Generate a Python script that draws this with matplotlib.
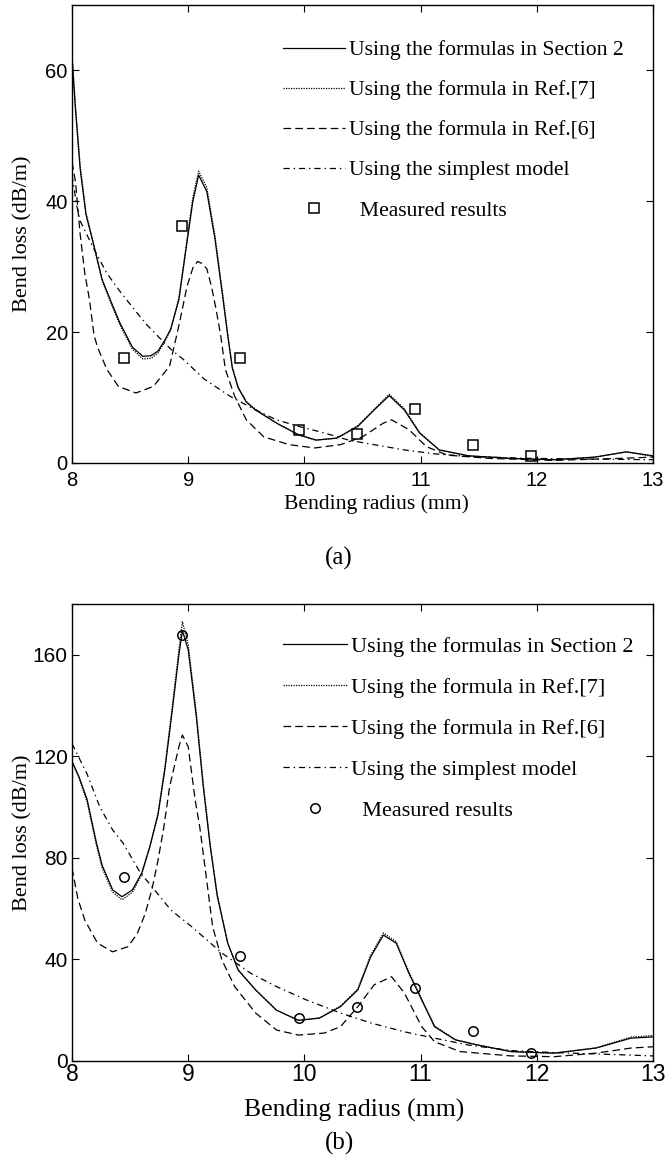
import matplotlib
matplotlib.use("Agg")
import matplotlib.pyplot as plt
from matplotlib import font_manager

# ---------------- data: panel (a) ----------------
a_sec2_x = [8.00, 8.03, 8.07, 8.12, 8.18, 8.26, 8.34, 8.41, 8.52, 8.61, 8.68, 8.74, 8.80, 8.85, 8.92,
            8.99, 9.04, 9.09, 9.16, 9.23, 9.30, 9.34, 9.38, 9.43, 9.50, 9.58, 9.76, 9.95, 10.10, 10.28,
            10.46, 10.60, 10.73, 10.86, 10.99, 11.16, 11.41, 11.78, 12.15, 12.50, 12.77, 13.00]
a_sec2_y = [62, 54, 45, 38, 33.8, 28, 24.5, 21.5, 17.7, 16.3, 16.4, 17.1, 18.8, 20.5, 25,
            33.8, 40, 44, 41.5, 34.3, 25, 19.5, 14.5, 11.5, 9.3, 8.1, 6.1, 4.3, 3.5, 3.8,
            5.6, 8.1, 10.3, 8.1, 4.6, 2.0, 1.1, 0.7, 0.5, 0.9, 1.7, 1.1]
a_ref7_y = [62.5, 54.5, 45.5, 38.3, 33.9, 27.8, 24.2, 21.2, 17.4, 15.9, 16.0, 16.8, 18.6, 20.4, 25.2,
            34.2, 40.6, 44.6, 42.1, 34.8, 25.4, 19.7, 14.6, 11.6, 9.4, 8.2, 6.1, 4.3, 3.5, 3.8,
            5.7, 8.2, 10.5, 8.3, 4.7, 2.0, 1.1, 0.7, 0.5, 0.9, 1.7, 1.0]
a_ref6_x = [8.00, 8.03, 8.07, 8.11, 8.15, 8.19, 8.22, 8.30, 8.40, 8.55, 8.70, 8.84, 8.92, 8.99, 9.04,
            9.08, 9.12, 9.16, 9.20, 9.24, 9.28, 9.32, 9.40, 9.50, 9.65, 9.87, 10.09, 10.31, 10.50, 10.68,
            10.75, 10.90, 11.05, 11.23, 11.60, 12.15, 12.70, 13.00]
a_ref6_y = [46, 43, 35, 29, 25, 19.5, 17.7, 14.3, 11.7, 10.7, 11.7, 14.8, 21, 27, 29.8,
            30.8, 30.5, 29.7, 27, 23.5, 19.4, 14.3, 10.2, 6.6, 4.0, 2.8, 2.3, 2.8, 4.0, 6.1,
            6.6, 5.1, 2.5, 1.2, 0.7, 0.4, 0.7, 0.9]
a_simple_x = [8.00, 8.04, 8.07, 8.18, 8.30, 8.41, 8.53, 8.64, 8.76, 8.85, 8.96, 9.14, 9.36, 9.58, 9.76,
              9.95, 10.17, 10.38, 10.60, 10.86, 11.12, 11.41, 11.96, 12.50, 13.00]
a_simple_y = [44, 39.4, 37, 33, 29, 26.3, 23.6, 21.2, 19, 17.4, 15.8, 12.8, 10.2, 8.1, 6.6,
              5.6, 4.6, 3.5, 2.8, 2.0, 1.4, 1.0, 0.7, 0.6, 0.5]
a_meas_x = [8.45, 8.95, 9.45, 9.95, 10.45, 10.95, 11.45, 11.95]
a_meas_y = [16.1, 36.2, 16.0, 5.0, 4.5, 8.3, 2.8, 1.0]

# ---------------- data: panel (b) ----------------
b_sec2_x = [8.00, 8.06, 8.13, 8.21, 8.26, 8.35, 8.43, 8.52, 8.60, 8.67, 8.74, 8.80, 8.86, 8.92, 8.95,
            9.00, 9.07, 9.13, 9.19, 9.25, 9.29, 9.34, 9.43, 9.58, 9.76, 9.95, 10.13, 10.31, 10.46, 10.57,
            10.68, 10.79, 10.90, 11.01, 11.12, 11.30, 11.49, 11.78, 12.15, 12.51, 12.81, 13.00]
b_sec2_y = [118, 112, 103, 86, 77, 67.4, 64.7, 67.4, 74, 84.4, 97, 115, 137, 160, 169.5,
            162, 135.6, 108, 84.4, 65, 56.8, 46.4, 35.8, 28, 20, 16, 16.9, 21.4, 28, 41,
            49.6, 46.4, 34.5, 24, 13.5, 8.3, 6.3, 3.7, 3.1, 5.1, 9.0, 9.5]
b_ref7_y = [118, 111.5, 102, 85, 76, 66.5, 63.5, 66.5, 73.5, 84.5, 97.5, 116, 138.5, 162, 173,
            164, 137, 109, 85, 65.5, 57, 46.6, 36, 28, 20, 16, 17, 21.6, 28.4, 41.6,
            50.4, 47, 35, 24.4, 13.8, 8.4, 6.3, 3.7, 3.1, 5.2, 9.4, 10.0]
b_ref6_x = [8.00, 8.05, 8.11, 8.22, 8.35, 8.48, 8.56, 8.63, 8.69, 8.74, 8.79, 8.84, 8.92, 8.95, 9.00,
            9.06, 9.10, 9.14, 9.21, 9.29, 9.40, 9.58, 9.76, 9.95, 10.17, 10.31, 10.46, 10.60, 10.75, 10.86,
            11.01, 11.12, 11.34, 11.78, 12.15, 12.51, 12.81, 13.00]
b_ref6_y = [76, 64, 55.5, 46.4, 43, 45, 50, 58, 68, 79, 92, 108, 123.8, 128.4, 123.8,
            102.8, 92, 78, 53, 39.8, 29.3, 18.9, 12.2, 10.2, 11, 13.5, 21.4, 30, 33.2, 26.8,
            13.5, 7.6, 3.7, 2.0, 1.7, 3.1, 5.1, 5.6]
b_simple_x = [8.00, 8.13, 8.24, 8.35, 8.44, 8.59, 8.70, 8.85, 9.03, 9.29, 9.54, 9.76, 10.02, 10.31, 10.57,
              10.86, 11.12, 11.41, 11.78, 12.15, 12.51, 13.00]
b_simple_y = [125, 113, 100, 91, 85.8, 74, 68, 59.5, 52.9, 42.5, 34.5, 29.3, 24, 18.9, 15,
              11.5, 9.0, 6.3, 4.1, 3.3, 2.8, 2.0]
b_meas_x = [8.45, 8.95, 9.45, 9.95, 10.45, 10.95, 11.45, 11.95]
b_meas_y = [72.3, 167.8, 41.5, 16.8, 21.4, 28.6, 11.8, 3.3]

x_ticks = [8, 9, 10, 11, 12, 13]
a_yticks = [0, 20, 40, 60]
b_yticks = [0, 40, 80, 120, 160]
labels = ["Using the formulas in Section 2", "Using the formula in Ref.[7]",
          "Using the formula in Ref.[6]", "Using the simplest model", "  Measured results"]

# ---------------- style ----------------
plt.rcParams['lines.scale_dashes'] = False
SERIF = ['Liberation Serif', 'DejaVu Serif']
SANS = 'Liberation Sans'
try:
    font_manager.findfont(font_manager.FontProperties(family='Liberation Sans Narrow'),
                          fallback_to_default=False)
    NARROW, NARROW_X, NARROW_Y = 'Liberation Sans Narrow', 19, 18
except Exception:
    NARROW, NARROW_X, NARROW_Y = 'Liberation Sans', 16.5, 15

W, H = 668, 1159
fig = plt.figure(figsize=(W / 100, H / 100), dpi=100)
ax1 = fig.add_axes([72 / W, 1 - 463 / H, 581 / W, 458 / H])
ax2 = fig.add_axes([72 / W, 1 - 1061 / H, 581 / W, 457 / H])

LW = 0.9
styles = dict(
    sec2=dict(color='k', lw=LW, ls='-'),
    ref7=dict(color='k', lw=LW, ls=(0, (0.9, 0.9))),
    ref6=dict(color='k', lw=LW, ls=(0, (5.5, 3.0))),
    simple=dict(color='k', lw=LW, ls=(0, (4.5, 2.8, 1.0, 2.8))),
)


def draw(ax, sx, sy, r7y, r6x, r6y, smx, smy, mx, my, marker, ylim, yticks,
         tick_font, xtick_size, ytick_size, xpad, leg_size, leg_top, leg_space, ylab_size):
    h1, = ax.plot(sx, sy, **styles['sec2'])
    h2, = ax.plot(sx, r7y, **styles['ref7'])
    h3, = ax.plot(r6x, r6y, **styles['ref6'])
    h4, = ax.plot(smx, smy, **styles['simple'])
    h5, = ax.plot(mx, my, ls='none', marker=marker, ms=6.8, mfc='none', mec='k', mew=1.1)
    ax.set_xlim(8, 13)
    ax.set_ylim(*ylim)
    ax.set_xticks(x_ticks)
    ax.set_yticks(yticks)
    ax.set_xticklabels([str(v) for v in x_ticks], family=tick_font, fontsize=xtick_size)
    ax.set_yticklabels([str(v) for v in yticks], family=tick_font, fontsize=ytick_size)
    ax.tick_params(direction='in', top=True, right=True, length=5, width=0.8)
    ax.tick_params(axis='x', pad=xpad)
    ax.tick_params(axis='y', pad=3)
    for s in ax.spines.values():
        s.set_linewidth(1.0)
    ax.set_ylabel("Bend loss (dB/m)", family=SERIF, fontsize=ylab_size)
    ax.yaxis.set_label_coords((32 - 72) / 581, 0.5)
    leg = ax.legend([h1, h2, h3, h4, h5], labels, loc='upper left',
                    bbox_to_anchor=((283 - 72) / 581, leg_top), frameon=False,
                    prop=dict(family=SERIF, size=leg_size), handlelength=2.86,
                    handletextpad=0.2, labelspacing=leg_space, borderpad=0, borderaxespad=0,
                    numpoints=1)
    return leg


draw(ax1, a_sec2_x, a_sec2_y, a_ref7_y, a_ref6_x, a_ref6_y, a_simple_x, a_simple_y,
     a_meas_x, a_meas_y, 's', (0, 70), a_yticks, SANS, 14.5, 14.5, 6, 15.6, 1 - 35 / 458, 0.92, 16)
ax1.set_xlabel("Bending radius (mm)", family=SERIF, fontsize=15.6)
ax1.xaxis.set_label_coords((376 - 72) / 581, (463 - 494) / 458)

draw(ax2, b_sec2_x, b_sec2_y, b_ref7_y, b_ref6_x, b_ref6_y, b_simple_x, b_simple_y,
     b_meas_x, b_meas_y, 'o', (0, 180), b_yticks, NARROW, NARROW_X, NARROW_Y, 1.5, 16,
     1 - 32 / 457, 0.92, 16)
ax2.set_xlabel("Bending radius (mm)", family=SERIF, fontsize=18.5)
ax2.xaxis.set_label_coords((354 - 72) / 581, (1061 - 1099) / 457)

fig.text(339 / W, 1 - 565 / H, "(a)", family=SERIF, fontsize=18, ha='center', va='baseline')
fig.text(340 / W, 1 - 1150 / H, "(b)", family=SERIF, fontsize=18, ha='center', va='baseline')

fig.savefig("out.png", dpi=100)
